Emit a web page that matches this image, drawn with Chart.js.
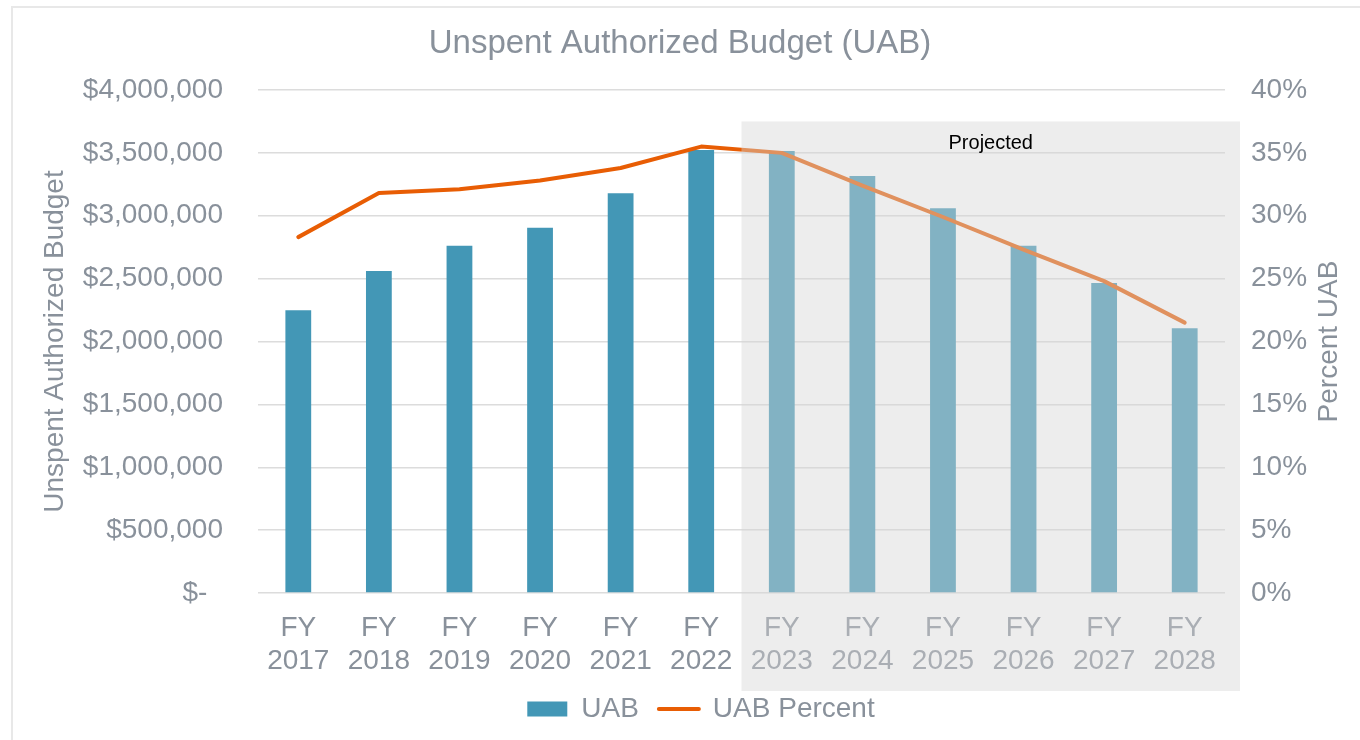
<!DOCTYPE html>
<html>
<head>
<meta charset="utf-8">
<script src="https://cdn.jsdelivr.net/npm/chart.js@4.4.1/dist/chart.umd.min.js"></script>
<style>
html,body{margin:0;padding:0;background:#fff;overflow:hidden;}
#wrap{position:relative;width:1360px;height:740px;}
#frame{position:absolute;left:11px;top:6px;width:1400px;height:800px;border-left:2px solid #e8e8e8;border-top:2px solid #e8e8e8;box-sizing:border-box;}
canvas{position:absolute;left:0;top:0;}
</style>
</head>
<body>
<div id="wrap"><div id="frame"></div><canvas id="c" width="1360" height="740"></canvas></div>
<script>
// ---- data ----
const categories = [["FY","2017"],["FY","2018"],["FY","2019"],["FY","2020"],["FY","2021"],["FY","2022"],
                    ["FY","2023"],["FY","2024"],["FY","2025"],["FY","2026"],["FY","2027"],["FY","2028"]];
const uabValues = [2248000, 2561000, 2762000, 2905000, 3178000, 3523000, 3515000, 3316000, 3059000, 2762000, 2465000, 2105000];
const uabPercent = [28.3, 31.8, 32.1, 32.8, 33.8, 35.5, 35.0, 32.4, 29.9, 27.3, 24.8, 21.5];
const firstProjectedIndex = 6;
const projectedLabel = "Projected";
const chartTitle = "Unspent Authorized Budget (UAB)";
const leftAxisTitle = "Unspent Authorized Budget";
const rightAxisTitle = "Percent UAB";
const seriesNames = ["UAB", "UAB Percent"];

// ---- styles ----
const FONT = "'Liberation Sans', Arial, Helvetica, sans-serif";
const GREY = "#89919b";
const BAR_COLOR = "#4397b6";
const LINE_COLOR = "#e85d04";
const GRID = "#dcdcdc";

Chart.defaults.font.family = FONT;

const fmtDollar = v => v === 0 ? "$-  " : "$" + Number(v).toLocaleString("en-US");

const projectedPlugin = {
  id: "projected",
  afterLayout(chart) {
    // nudge legend to the right to match the reference placement
    if (chart.legend) { chart.legend.left += 21; chart.legend.right += 21; }
  },
  afterDraw(chart) {
    const {ctx, chartArea} = chart;
    const xs = chart.scales.x, ys = chart.scales.y, y1 = chart.scales.y1;
    const left = (xs.getPixelForValue(firstProjectedIndex - 1) + xs.getPixelForValue(firstProjectedIndex)) / 2;
    const right = chartArea.right + 15;
    const top = ys.getPixelForValue(3750000);
    const bottom = xs.bottom + 16;
    ctx.save();
    ctx.fillStyle = "rgba(213,213,213,0.43)";
    ctx.fillRect(left, top, right - left, bottom - top);
    ctx.fillStyle = "#000";
    ctx.font = "20px " + FONT;
    ctx.textAlign = "center";
    ctx.textBaseline = "middle";
    ctx.fillText(projectedLabel, (left + right) / 2, top + 22);
    // right axis title (reads bottom-to-top)
    ctx.fillStyle = GREY;
    ctx.font = "28px " + FONT;
    ctx.translate(y1.right - 31, (y1.top + y1.bottom) / 2);
    ctx.rotate(-Math.PI / 2);
    ctx.fillText(rightAxisTitle, 0, 0);
    ctx.restore();
  }
};

new Chart(document.getElementById("c"), {
  data: {
    labels: categories,
    datasets: [
      {type: "bar", label: seriesNames[0], data: uabValues, backgroundColor: BAR_COLOR, yAxisID: "y",
       barPercentage: 0.32, categoryPercentage: 1, order: 1},
      {type: "line", label: seriesNames[1], data: uabPercent, borderColor: LINE_COLOR, backgroundColor: LINE_COLOR,
       borderWidth: 4, pointRadius: 0, tension: 0, yAxisID: "y1", order: 0,
       borderCapStyle: "round", borderJoinStyle: "round"}
    ]
  },
  options: {
    responsive: false,
    animation: false,
    devicePixelRatio: 1,
    layout: {padding: {left: 0, right: 0, top: 0, bottom: 7}},
    plugins: {
      title: {display: true, text: chartTitle, color: GREY, font: {size: 33, weight: "normal"},
              padding: {top: 24, bottom: 26.4}},
      legend: {
        position: "bottom",
        labels: {
          usePointStyle: true, pointStyleWidth: 40, boxHeight: 15, padding: 20,
          color: GREY, font: {size: 28},
          generateLabels(chart) {
            return chart.data.datasets.map((ds, i) => ({
              text: ds.label,
              fillStyle: ds.type === "line" ? ds.borderColor : ds.backgroundColor,
              strokeStyle: ds.type === "line" ? ds.borderColor : ds.backgroundColor,
              fontColor: GREY,
              lineWidth: ds.type === "line" ? 4 : 0,
              lineCap: "round",
              pointStyle: ds.type === "line" ? "line" : "rect",
              hidden: false,
              datasetIndex: i
            }));
          }
        }
      },
      tooltip: {enabled: false}
    },
    scales: {
      x: {
        grid: {display: false, drawTicks: false},
        border: {display: false},
        ticks: {color: GREY, font: {size: 28, lineHeight: 1.18}, padding: 19, maxRotation: 0, autoSkip: false},
        afterFit(s) { s.height = 82; }
      },
      y: {
        position: "left", min: 0, max: 4000000,
        grid: {color: GRID, drawTicks: false, lineWidth: 1.5},
        border: {display: false},
        ticks: {stepSize: 500000, padding: 35, color: GREY, font: {size: 28}, callback: v => fmtDollar(v)},
        title: {display: true, text: leftAxisTitle, color: GREY, font: {size: 28}, padding: {top: 38, bottom: 0}},
        afterFit(s) { s.width = 258; }
      },
      y1: {
        position: "right", min: 0, max: 40,
        grid: {display: false, drawTicks: false},
        border: {display: false},
        ticks: {stepSize: 5, padding: 26, color: GREY, font: {size: 28}, callback: v => v + "%"},
        afterFit(s) { s.width = 135; }
      }
    }
  },
  plugins: [projectedPlugin]
});
</script>
</body>
</html>
